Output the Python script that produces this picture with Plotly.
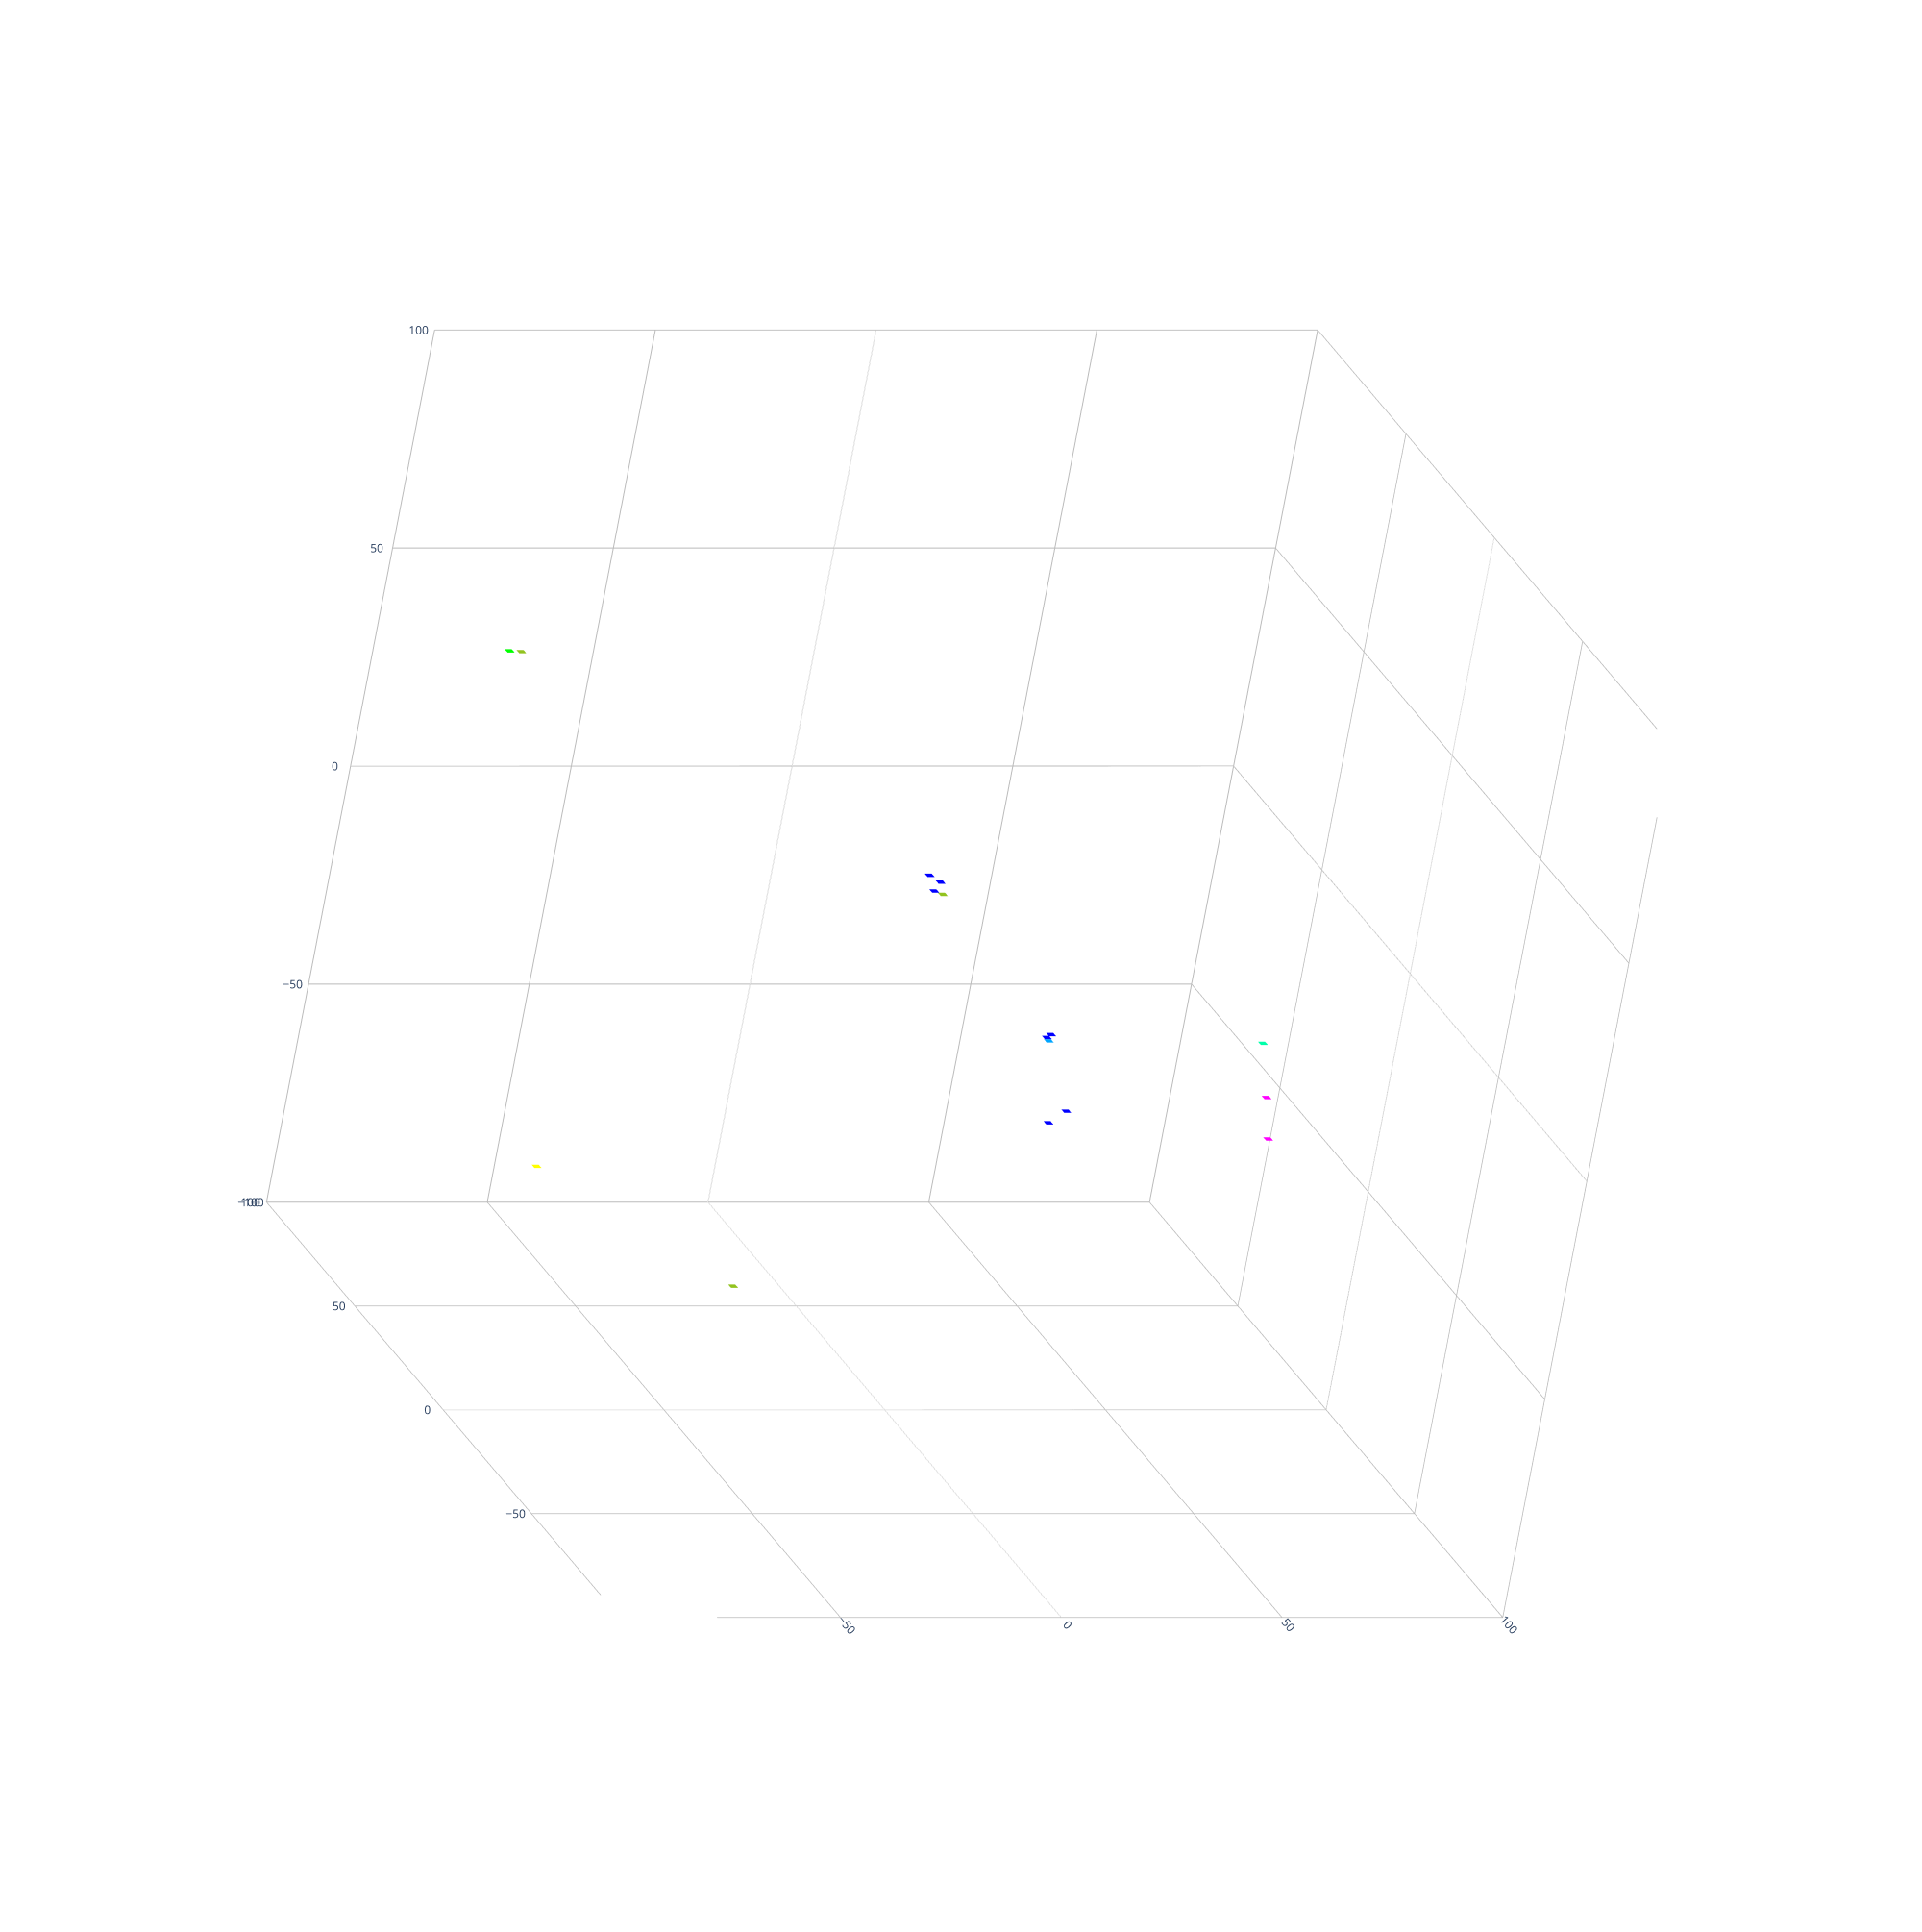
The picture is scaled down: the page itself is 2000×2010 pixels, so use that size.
import plotly.graph_objects as go

# ---- data ----
x_pos = [-86.9, -84.7, -7.4, -5.3, -6.5, -4.9, 15.6, 14.8, 15.2, 55.7, 56.4, 56.7, 18.5, 15.1, -81.8, -44.6]
y_pos = [63.5, 62.5, 11.7, 10.3, 10.0, 9.0, -11.7, -11.6, -12.0, -28.5, -33.6, -37.4, -19.6, -19.3, 15.6, -10.0]
z_pos = [43.8, 44.1, 17.0, 16.1, 14.2, 13.9, -8.4, -9.1, -9.7, -2.4, -12.4, -20.1, -22.2, -25.0, -51.6, -66.9]
colors = ["#00ff00", "#92c31f", "#0000ff", "#0000ff", "#0000ff", "#92c31f",
          "#0000ff", "#0000ff", "#00a5ff", "#00ffaa", "#ff00ff", "#ff00ff",
          "#0000ff", "#0000ff", "#ffff00", "#92c31f"]

# ---- style ----
HALF = 0.8  # half side of each square tile, in data units

vx, vy, vz, ii, jj, kk, fcol = [], [], [], [], [], [], []
for cx, cy, cz, c in zip(x_pos, y_pos, z_pos, colors):
    b = len(vx)
    for dx, dy in [(-HALF, -HALF), (HALF, -HALF), (HALF, HALF), (-HALF, HALF)]:
        vx.append(cx + dx)
        vy.append(cy + dy)
        vz.append(cz)
    ii += [b, b]
    jj += [b + 1, b + 2]
    kk += [b + 2, b + 3]
    fcol += [c, c]

fig = go.Figure(go.Mesh3d(
    x=vx, y=vy, z=vz, i=ii, j=jj, k=kk,
    facecolor=fcol, flatshading=True,
    lighting=dict(ambient=1, diffuse=0, specular=0, roughness=1, fresnel=0),
    hoverinfo="skip", showscale=False,
))

d = 0.3843
eye_dir = (-0.405, -0.8254, 0.3929)
ax_style = dict(visible=True, showbackground=False, showgrid=True, gridcolor="#bbb",
                title="", showspikes=False, range=[-100, 100])
fig.update_layout(
    width=2000, height=2010,
    margin=dict(l=0, r=0, t=0, b=0),
    paper_bgcolor="white",
    showlegend=False,
    scene=dict(
        domain=dict(x=[0, 1], y=[0, 1]),
        xaxis=dict(**ax_style),
        yaxis=dict(**ax_style),
        zaxis=dict(**ax_style),
        aspectmode="manual",
        aspectratio=dict(x=1, y=1, z=1),
        dragmode="orbit",
        camera=dict(
            eye=dict(x=d * eye_dir[0], y=d * eye_dir[1], z=d * eye_dir[2]),
            center=dict(x=0, y=0, z=0),
            up=dict(x=0, y=0.4297, z=0.9028),
            projection=dict(type="orthographic"),
        ),
        bgcolor="white",
    ),
)

fig.write_html("out.html", config={"displayModeBar": False})
